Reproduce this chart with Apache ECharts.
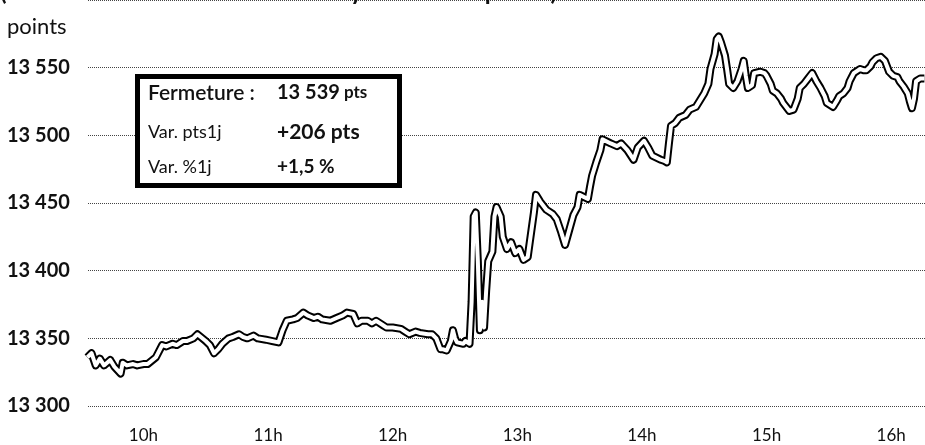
<!DOCTYPE html>
<html>
<head>
<meta charset="utf-8">
<script src="https://cdn.jsdelivr.net/npm/echarts@6/dist/echarts.min.js"></script>
<style>html,body{margin:0;padding:0;background:#fff}#c{width:925px;height:445px}</style>
</head>
<body>
<div id="c"></div>
<script>
// minutes since midnight
const times = [573,575,577,579,581,584,586,589,590,592,595,597,600,602,606,609,611,614,616,619,621,624,626,630,632,634,636,638,641,643,646,648,650,653,655,659,662,665,667,669,672,674,677,679,682,684,686,690,693,696,698,701,703,705,708,710,712,715,717,720,724,726,728,731,733,737,739,741,743,744,746,748,749,750,751,754,755,757,758,759,760,761,762,763,764,765,766,768,769,770,772,773,775,777,779,781,783,785,786,788,789,791,794,797,799,801,803,805,807,809,810,814,815,816,818,820,821,825,828,830,833,836,838,841,843,845,849,851,852,853,854,856,858,861,863,866,868,870,872,873,875,876,877,878,880,881,882,884,886,888,889,890,891,893,894,897,899,900,902,903,905,907,908,910,911,913,915,916,918,920,922,924,926,928,929,932,934,935,937,939,940,942,944,945,947,948,950,951,953,955,957,958,959,961,963,964,966,968,969,970,971,972,974,976];
const values = [13336,13339,13330,13335,13330,13334,13329,13324,13332,13330,13331,13330,13331,13331,13336,13345,13344,13346,13345,13348,13348,13350,13353,13348,13345,13339,13342,13346,13350,13351,13353,13351,13350,13352,13350,13349,13348,13347,13356,13363,13364,13365,13369,13367,13365,13366,13364,13363,13365,13367,13369,13368,13361,13363,13363,13361,13363,13360,13358,13358,13357,13355,13353,13355,13354,13353,13353,13350,13342,13342,13341,13348,13356,13350,13347,13346,13348,13346,13377,13440,13443,13407,13356,13377,13358,13385,13407,13414,13440,13447,13440,13425,13416,13421,13413,13416,13408,13410,13421,13443,13456,13451,13445,13442,13438,13429,13419,13430,13441,13447,13456,13453,13462,13470,13480,13489,13497,13494,13492,13494,13489,13482,13491,13496,13491,13485,13482,13481,13480,13494,13507,13509,13513,13515,13519,13521,13526,13531,13538,13549,13560,13571,13573,13569,13559,13549,13538,13535,13540,13549,13555,13544,13535,13537,13546,13547,13546,13544,13538,13533,13531,13527,13524,13520,13518,13519,13527,13535,13538,13542,13546,13540,13535,13529,13524,13521,13526,13529,13531,13535,13540,13546,13548,13549,13548,13548,13551,13554,13557,13558,13555,13551,13547,13544,13543,13540,13536,13531,13525,13520,13527,13540,13542,13542];
const hourTicks = [600,660,720,780,840,900,960];
const yTicks = [13300,13350,13400,13450,13500,13550];

const data = times.map((t,i)=>[t, values[i]]);
const FONT = 'Lato';
const chart = echarts.init(document.getElementById('c'), null, {renderer:'canvas'});
chart.setOption({
  animation:false,
  backgroundColor:'#fff',
  grid:{left:88,right:0,top:-4.4,bottom:39,containLabel:false},
  xAxis:{
    type:'value', min:573.3, max:976.3,
    axisLine:{show:false}, axisTick:{show:false}, splitLine:{show:false},
    axisLabel:{customValues:hourTicks, formatter:v=>Math.round(v/60)+'h', fontFamily:FONT, fontSize:17, color:'#111', margin:21}
  },
  yAxis:{
    type:'value', min:13300, max:13600, interval:50,
    axisLine:{show:false}, axisTick:{show:false},
    splitLine:{show:true, lineStyle:{type:'dotted', color:'#444', width:1}},
    axisLabel:{showMaxLabel:false, align:'left', margin:81, padding:[0,0,7,0], fontFamily:FONT, fontWeight:'bold', fontSize:20, color:'#111',
      formatter:v=> yTicks.includes(v) ? String(v).replace(/(\d+)(\d{3})$/,'$1 $2') : ''}
  },
  series:[
    {type:'line', data:data, showSymbol:false, silent:true, z:3, lineStyle:{color:'#000', width:8, join:'round'}},
    {type:'line', data:data, showSymbol:false, silent:true, z:4, lineStyle:{color:'#fff', width:4, join:'round'}}
  ],
  graphic:[
    {type:'text', left:7, top:16, z:10, style:{text:'points', font:'22px '+FONT, fill:'#111'}},
    {type:'text', left:0, top:-20, z:10, style:{text:'(Évolution de l’indice Dax intraday – cours en points)', font:'bold 24px '+FONT, fill:'#111'}},
    {type:'rect', z:20, shape:{x:137.5,y:76.5,width:262,height:109}, style:{fill:'#fff', stroke:'#000', lineWidth:5}},
    {type:'text', z:21, x:148, y:93, style:{text:'Fermeture :', font:'600 21px '+FONT, fill:'#111', verticalAlign:'middle'}},
    {type:'text', z:21, x:277, y:93, style:{text:'{a|13 539}{b| pts}', verticalAlign:'middle',
      rich:{a:{font:'bold 20px '+FONT, fill:'#111'}, b:{font:'bold 17px '+FONT, fill:'#111'}}}},
    {type:'text', z:21, x:148, y:132, style:{text:'Var. pts1j', font:'18px '+FONT, fill:'#111', verticalAlign:'middle'}},
    {type:'text', z:21, x:277, y:132, style:{text:'+206 pts', font:'bold 21px '+FONT, fill:'#111', verticalAlign:'middle'}},
    {type:'text', z:21, x:148, y:167, style:{text:'Var. %1j', font:'18px '+FONT, fill:'#111', verticalAlign:'middle'}},
    {type:'text', z:21, x:277, y:167, style:{text:'+1,5 %', font:'bold 19px '+FONT, fill:'#111', verticalAlign:'middle'}}
  ]
});
</script>
</body>
</html>
